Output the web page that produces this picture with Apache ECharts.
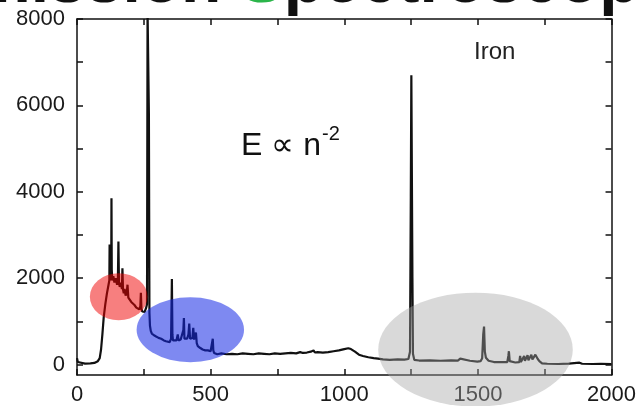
<!DOCTYPE html>
<html>
<head>
<meta charset="utf-8">
<script src="https://cdn.jsdelivr.net/npm/echarts@6/dist/echarts.min.js"></script>
<style>
html,body{margin:0;padding:0;background:#fff;}
#main{width:639px;height:406px;}
</style>
</head>
<body>
<div id="main"></div>
<script>
// spectrum trace (x position, counts)
var waveX = [0, 3, 10, 30, 50, 65, 72, 78, 85, 90, 95, 100, 106, 112, 118, 121, 122, 123, 124, 126, 128, 129, 130, 132, 136, 140, 145, 150, 153, 155, 157, 160, 165, 168, 170, 172, 175, 178, 182, 186, 189, 192, 197, 203, 209, 215, 222, 228, 233, 237, 239, 241, 244, 249, 253, 258, 262, 264, 266, 268, 269, 270, 271, 273, 276, 280, 288, 296, 305, 315, 325, 333, 340, 347, 352, 355, 357, 359, 364, 372, 377, 380, 388, 395, 398, 400, 402, 406, 412, 417, 420, 423, 428, 432, 435, 438, 442, 445, 448, 452, 460, 470, 480, 490, 500, 505, 508, 510, 513, 519, 525, 540, 560, 580, 600, 620, 640, 660, 680, 700, 720, 740, 760, 780, 800, 820, 835, 840, 845, 860, 875, 885, 890, 900, 920, 940, 960, 980, 1000, 1015, 1025, 1040, 1055, 1070, 1090, 1110, 1126, 1145, 1170, 1200, 1225, 1240, 1246, 1249, 1251, 1253, 1255, 1257, 1262, 1280, 1320, 1360, 1400, 1425, 1434, 1440, 1470, 1498, 1510, 1516, 1520, 1523, 1526, 1530, 1540, 1560, 1590, 1610, 1614, 1616, 1619, 1640, 1655, 1658, 1661, 1668, 1673, 1676, 1682, 1686, 1689, 1696, 1700, 1704, 1710, 1715, 1719, 1724, 1730, 1740, 1760, 1800, 1840, 1880, 1890, 1930, 1960, 2000];
var counts = [150, 60, 30, 25, 30, 40, 60, 80, 150, 350, 700, 1100, 1400, 1650, 1850, 1950, 2780, 2800, 1950, 2100, 2000, 3850, 2200, 1950, 2050, 1900, 2000, 1850, 1950, 2850, 1900, 1800, 1900, 1750, 2230, 1750, 1650, 1750, 1600, 1650, 1850, 1550, 1550, 1450, 1420, 1380, 1320, 1300, 1280, 1350, 1660, 1300, 1230, 1250, 1220, 1300, 1400, 8200, 8200, 8200, 5800, 5800, 1200, 900, 780, 720, 680, 650, 620, 600, 560, 540, 560, 520, 600, 1980, 700, 560, 540, 560, 700, 560, 580, 620, 800, 1080, 600, 560, 600, 700, 950, 600, 560, 620, 850, 580, 560, 740, 500, 430, 390, 350, 330, 330, 310, 320, 600, 330, 270, 230, 240, 260, 240, 250, 240, 260, 250, 240, 260, 250, 240, 260, 250, 260, 270, 260, 290, 330, 270, 280, 300, 330, 280, 290, 280, 290, 310, 330, 360, 380, 360, 300, 230, 200, 170, 150, 140, 120, 110, 120, 115, 130, 300, 3900, 6700, 6700, 2000, 250, 110, 95, 100, 90, 100, 95, 140, 95, 90, 70, 80, 150, 700, 880, 300, 160, 90, 60, 60, 60, 200, 310, 80, 50, 60, 200, 60, 80, 200, 90, 90, 220, 100, 110, 230, 120, 180, 230, 190, 130, 80, 30, 20, 15, 25, 45, 20, 15, 20, 15];

var xTicks = [0, 250, 500, 750, 1000, 1250, 1500, 1750, 2000];
var xLabels = [0, 500, 1000, 1500, 2000];
var yTicks = [0, 1000, 2000, 3000, 4000, 5000, 6000, 7000, 8000];
var yLabels = [0, 2000, 4000, 6000, 8000];

// highlighted regions, in data units: centre x, centre y, half width, half height
var blobX = [156, 424, 1491];
var blobY = [1572, 809, 347];
var blobW = [108, 201, 364];
var blobH = [543, 751, 1318];
var blobFill = ['rgba(240,0,0,0.5)', 'rgba(20,40,230,0.55)', 'rgba(165,165,165,0.42)'];

var chart = echarts.init(document.getElementById('main'));

var axisCol = '#111';
var labelFont = 'Liberation Sans, Arial, sans-serif';

function plain(v) { return String(v); }

function frameX(pos, labels) {
    return {
        type: 'value', min: 0, max: 2000, position: pos,
        axisLine: { show: true, onZero: false, lineStyle: { color: axisCol, width: 1.5 } },
        axisTick: { show: true, inside: true, length: 6, customValues: xTicks, lineStyle: { color: axisCol, width: 1.5 } },
        axisLabel: { show: labels, customValues: xLabels, formatter: plain, color: '#1a1a1a', fontSize: 22, margin: 9, fontFamily: labelFont },
        splitLine: { show: false }
    };
}
function frameY(pos, labels) {
    return {
        type: 'value', min: -240, max: 8000, position: pos,
        axisLine: { show: true, onZero: false, lineStyle: { color: axisCol, width: 1.5 } },
        axisTick: { show: true, inside: true, length: 6, customValues: yTicks, lineStyle: { color: axisCol, width: 1.5 } },
        axisLabel: { show: labels, customValues: yLabels, formatter: plain, color: '#1a1a1a', fontSize: 22, margin: 12, fontFamily: labelFont },
        splitLine: { show: false }
    };
}

chart.setOption({
    animation: false,
    backgroundColor: '#fff',
    grid: { left: 77, right: 24, top: 19, bottom: 31 },
    xAxis: [frameX('bottom', true), frameX('top', false)],
    yAxis: [frameY('left', true), frameY('right', false)],
    series: [{
        type: 'line',
        showSymbol: false,
        clip: true,
        lineStyle: { color: '#111', width: 2.2 },
        data: waveX.map(function (x, i) { return [x, counts[i]]; })
    }]
});

var els = [];
for (var i = 0; i < blobX.length; i++) {
    var c = chart.convertToPixel({ gridIndex: 0 }, [blobX[i], blobY[i]]);
    var e = chart.convertToPixel({ gridIndex: 0 }, [blobX[i] + blobW[i], blobY[i] + blobH[i]]);
    var rx = Math.abs(e[0] - c[0]), ry = Math.abs(c[1] - e[1]);
    els.push({
        type: 'circle', x: c[0], y: c[1], scaleX: rx / ry, z: 100,
        shape: { cx: 0, cy: 0, r: ry },
        style: { fill: blobFill[i] }
    });
}
els.push({
    type: 'text', x: -72, y: -49, z: 110,
    style: {
        text: '{a|Emission }{g|S}{a|pectroscopy}',
        rich: {
            a: { fontSize: 66, fontWeight: 'bold', fill: '#111', fontFamily: labelFont },
            g: { fontSize: 66, fontWeight: 'bold', fill: '#2bb54a', fontFamily: labelFont }
        },
        verticalAlign: 'top'
    }
});
els.push({
    type: 'text', x: 241, y: 146, z: 110,
    style: { text: 'E \u221d n', fontSize: 32, fill: '#111', fontFamily: labelFont, verticalAlign: 'middle' }
});
els.push({
    type: 'text', x: 322, y: 134, z: 110,
    style: { text: '-2', fontSize: 20, fill: '#111', fontFamily: labelFont, verticalAlign: 'middle' }
});
els.push({
    type: 'text', x: 474, y: 52, z: 110,
    style: { text: 'Iron', fontSize: 24, fill: '#222', fontFamily: labelFont, verticalAlign: 'middle' }
});
chart.setOption({ graphic: els });

window.addEventListener('resize', function () { chart.resize(); });
</script>
</body>
</html>
